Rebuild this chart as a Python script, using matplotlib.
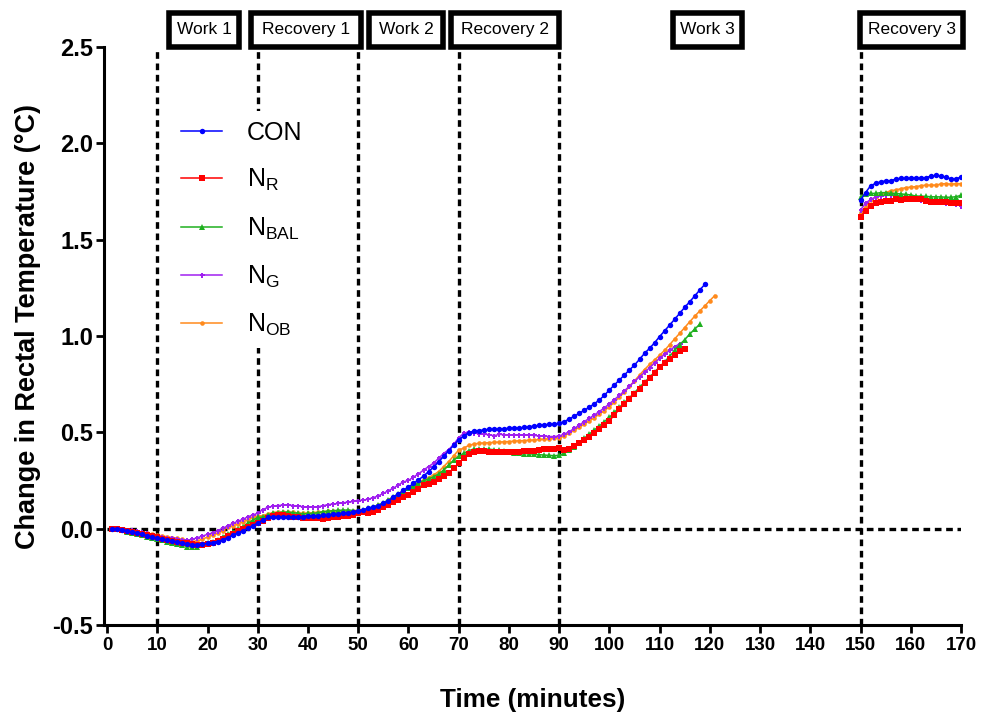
import matplotlib.pyplot as plt
from matplotlib.patches import Rectangle
import numpy as np

plt.rcParams['font.family'] = ['Liberation Sans', 'DejaVu Sans']

# change in rectal temperature (deg C), one reading per minute from minute 1
con = [0.000, 0.000, -0.005, -0.011, -0.017, -0.023, -0.030, -0.037, -0.044, -0.051,
       -0.056, -0.061, -0.065, -0.069, -0.074, -0.079, -0.083, -0.083, -0.080, -0.077,
       -0.072, -0.067, -0.058, -0.046, -0.035, -0.023, -0.011, 0.002, 0.016, 0.030,
       0.044, 0.058, 0.062, 0.062, 0.062, 0.061, 0.059, 0.059, 0.062, 0.066,
       0.066, 0.068, 0.069, 0.071, 0.074, 0.076, 0.080, 0.083, 0.087, 0.092,
       0.097, 0.106, 0.111, 0.118, 0.131, 0.145, 0.163, 0.180, 0.200, 0.215,
       0.235, 0.253, 0.273, 0.296, 0.320, 0.346, 0.375, 0.405, 0.432, 0.462,
       0.481, 0.498, 0.507, 0.509, 0.512, 0.515, 0.516, 0.517, 0.518, 0.521,
       0.523, 0.523, 0.525, 0.529, 0.532, 0.536, 0.539, 0.541, 0.543, 0.547,
       0.555, 0.569, 0.583, 0.599, 0.614, 0.630, 0.648, 0.668, 0.692, 0.720,
       0.746, 0.772, 0.798, 0.824, 0.849, 0.879, 0.910, 0.936, 0.965, 0.997,
       1.027, 1.057, 1.087, 1.118, 1.149, 1.178, 1.208, 1.239, 1.268]

n_r = [0.000, -0.003, -0.007, -0.012, -0.016, -0.021, -0.027, -0.033, -0.039, -0.045,
       -0.052, -0.059, -0.063, -0.067, -0.072, -0.076, -0.081, -0.085, -0.083, -0.078,
       -0.074, -0.064, -0.052, -0.040, -0.027, -0.014, -0.002, 0.008, 0.018, 0.030,
       0.040, 0.054, 0.064, 0.069, 0.069, 0.065, 0.062, 0.059, 0.057, 0.055,
       0.054, 0.053, 0.052, 0.054, 0.058, 0.061, 0.065, 0.067, 0.070, 0.080,
       0.085, 0.083, 0.087, 0.097, 0.111, 0.123, 0.138, 0.149, 0.164, 0.175,
       0.191, 0.208, 0.224, 0.232, 0.244, 0.256, 0.273, 0.290, 0.313, 0.340,
       0.365, 0.386, 0.398, 0.402, 0.403, 0.400, 0.398, 0.396, 0.396, 0.397,
       0.397, 0.399, 0.401, 0.403, 0.405, 0.408, 0.411, 0.414, 0.415, 0.417,
       0.408, 0.412, 0.428, 0.443, 0.460, 0.477, 0.495, 0.515, 0.536, 0.560,
       0.590, 0.620, 0.648, 0.674, 0.700, 0.725, 0.754, 0.781, 0.810, 0.838,
       0.860, 0.881, 0.903, 0.920, 0.935]

n_bal = [0.000, -0.002, -0.007, -0.016, -0.024, -0.029, -0.035, -0.042, -0.047, -0.054,
         -0.059, -0.067, -0.076, -0.081, -0.086, -0.093, -0.097, -0.094, -0.086, -0.077,
         -0.068, -0.059, -0.043, -0.029, -0.017, -0.004, 0.010, 0.027, 0.044, 0.058,
         0.060, 0.071, 0.080, 0.083, 0.085, 0.086, 0.083, 0.080, 0.076, 0.079,
         0.079, 0.083, 0.088, 0.091, 0.093, 0.095, 0.096, 0.097, 0.094, 0.094,
         0.097, 0.106, 0.114, 0.123, 0.135, 0.149, 0.166, 0.180, 0.192, 0.209,
         0.221, 0.235, 0.249, 0.258, 0.270, 0.284, 0.304, 0.330, 0.355, 0.375,
         0.391, 0.405, 0.413, 0.414, 0.413, 0.412, 0.410, 0.408, 0.403, 0.398,
         0.395, 0.391, 0.390, 0.389, 0.386, 0.384, 0.382, 0.380, 0.379, 0.380,
         0.391, 0.408, 0.425, 0.446, 0.469, 0.491, 0.512, 0.533, 0.555, 0.578,
         0.604, 0.630, 0.655, 0.680, 0.706, 0.734, 0.760, 0.786, 0.812, 0.840,
         0.866, 0.895, 0.925, 0.955, 0.981, 1.010, 1.036, 1.061]

n_g = [0.000, -0.001, -0.003, -0.005, -0.007, -0.012, -0.018, -0.024, -0.031, -0.038,
       -0.043, -0.047, -0.051, -0.055, -0.059, -0.060, -0.055, -0.047, -0.038, -0.030,
       -0.022, -0.011, 0.002, 0.014, 0.027, 0.038, 0.048, 0.061, 0.071, 0.080,
       0.099, 0.110, 0.117, 0.120, 0.122, 0.122, 0.120, 0.117, 0.114, 0.113,
       0.113, 0.114, 0.119, 0.125, 0.127, 0.131, 0.134, 0.138, 0.141, 0.145,
       0.148, 0.153, 0.161, 0.170, 0.183, 0.197, 0.210, 0.227, 0.243, 0.250,
       0.268, 0.284, 0.304, 0.322, 0.340, 0.365, 0.390, 0.410, 0.437, 0.472,
       0.495, 0.503, 0.498, 0.492, 0.490, 0.488, 0.482, 0.489, 0.488, 0.487,
       0.486, 0.486, 0.485, 0.485, 0.484, 0.481, 0.480, 0.478, 0.478, 0.481,
       0.491, 0.503, 0.520, 0.538, 0.555, 0.573, 0.590, 0.608, 0.627, 0.648,
       0.670, 0.692, 0.715, 0.740, 0.764, 0.788, 0.811, 0.835, 0.860, 0.884,
       0.905, 0.925, 0.944, 0.960]

n_ob = [0.000, -0.002, -0.005, -0.008, -0.010, -0.015, -0.020, -0.024, -0.029, -0.033,
        -0.038, -0.042, -0.046, -0.050, -0.056, -0.062, -0.067, -0.063, -0.055, -0.043,
        -0.033, -0.024, -0.010, 0.007, 0.014, 0.024, 0.035, 0.045, 0.058, 0.064,
        0.068, 0.076, 0.083, 0.087, 0.086, 0.084, 0.084, 0.081, 0.080, 0.080,
        0.083, 0.086, 0.088, 0.090, 0.092, 0.093, 0.092, 0.092, 0.091, 0.090,
        0.093, 0.100, 0.111, 0.121, 0.131, 0.149, 0.166, 0.180, 0.197, 0.209,
        0.226, 0.239, 0.253, 0.265, 0.279, 0.296, 0.322, 0.348, 0.378, 0.408,
        0.418, 0.432, 0.439, 0.443, 0.445, 0.446, 0.448, 0.449, 0.451, 0.452,
        0.454, 0.456, 0.457, 0.459, 0.460, 0.463, 0.464, 0.467, 0.469, 0.472,
        0.481, 0.495, 0.510, 0.526, 0.542, 0.559, 0.576, 0.594, 0.612, 0.632,
        0.657, 0.683, 0.709, 0.738, 0.767, 0.797, 0.826, 0.852, 0.876, 0.900,
        0.926, 0.955, 0.985, 1.014, 1.044, 1.074, 1.103, 1.130, 1.156, 1.184,
        1.210]

# recovery 3, minutes 150 to 170
rec_start = 150
con_rec = [1.705, 1.744, 1.780, 1.792, 1.800, 1.805, 1.805, 1.815, 1.818, 1.818, 1.818,
           1.822, 1.818, 1.822, 1.830, 1.833, 1.830, 1.823, 1.816, 1.813, 1.827]
n_r_rec = [1.619, 1.650, 1.675, 1.689, 1.697, 1.701, 1.702, 1.709, 1.706, 1.710, 1.712,
           1.710, 1.709, 1.700, 1.697, 1.697, 1.697, 1.695, 1.692, 1.689, 1.689]
n_bal_rec = [1.723, 1.737, 1.740, 1.740, 1.744, 1.744, 1.740, 1.740, 1.737, 1.735, 1.732,
             1.726, 1.726, 1.724, 1.723, 1.722, 1.722, 1.720, 1.720, 1.723, 1.730]
n_g_rec = [1.654, 1.689, 1.709, 1.720, 1.727, 1.730, 1.730, 1.728, 1.723, 1.720, 1.715,
           1.709, 1.706, 1.706, 1.702, 1.699, 1.695, 1.692, 1.689, 1.685, 1.676]
n_ob_rec = [1.640, 1.671, 1.705, 1.723, 1.737, 1.744, 1.754, 1.758, 1.764, 1.770, 1.773,
            1.775, 1.780, 1.783, 1.783, 1.783, 1.789, 1.791, 1.787, 1.791, 1.790]

phase_marks = [10, 30, 50, 70, 90, 150]
phase_names = ['Work 1', 'Recovery 1', 'Work 2', 'Recovery 2', 'Work 3', 'Recovery 3']

labels = ['CON', r'N$_\mathregular{R}$', r'N$_\mathregular{BAL}$',
          r'N$_\mathregular{G}$', r'N$_\mathregular{OB}$']


fig = plt.figure(figsize=(9.89, 7.15), dpi=100)
ax = fig.add_axes([0.1052, 0.1259, 0.8665, 0.8084])

# period boundaries and the zero line
for xm in phase_marks:
    ax.plot([xm, xm], [-0.5, 2.5], color='black', lw=2.4,
            ls=(0, (2.0, 1.4)), zorder=1)
ax.plot([0, 170], [0, 0], color='black', lw=2.4, ls=(0, (2.0, 1.4)), zorder=1)

series = [
    (con, con_rec, '#0000FF', 'o', 3.9),
    (n_r, n_r_rec, '#FF0000', 's', 3.7),
    (n_bal, n_bal_rec, '#1FB01F', '^', 3.9),
    (n_g, n_g_rec, '#A020F0', 'P', 3.6),
    (n_ob, n_ob_rec, '#FF8A1C', 'o', 3.3),
]
order = [4, 3, 2, 1, 0]
handles = [None] * 5
for i in order:
    vals, rec, col, mk, ms = series[i]
    t = np.arange(1, len(vals) + 1)
    t_rec = np.arange(rec_start, rec_start + len(rec))
    ln, = ax.plot(t, vals, color=col, marker=mk, ms=ms, lw=1.1, mew=0, zorder=3 + (4 - i))
    ax.plot(t_rec, rec, color=col, marker=mk, ms=ms, lw=1.1, mew=0, zorder=3 + (4 - i))
    handles[i] = ln

ax.set_xlim(-0.6, 170)
ax.set_ylim(-0.5, 2.5)
ax.set_xticks(np.arange(0, 171, 10))
ax.set_yticks(np.arange(-0.5, 2.51, 0.5))
ax.set_yticklabels(['%.1f' % v for v in np.arange(-0.5, 2.51, 0.5)])

for s in ['top', 'right']:
    ax.spines[s].set_visible(False)
for s in ['left', 'bottom']:
    ax.spines[s].set_linewidth(2.2)
ax.tick_params(axis='both', width=2.0, length=6, direction='out')
ax.tick_params(axis='y', labelsize=17, pad=2)
ax.tick_params(axis='x', labelsize=13.5, pad=3)
for lab in ax.get_xticklabels() + ax.get_yticklabels():
    lab.set_fontweight('bold')

ax.set_xlabel('Time (minutes)', fontsize=18.8, fontweight='bold', labelpad=24)
ax.set_ylabel('Change in Rectal Temperature (°C)', fontsize=19.5, fontweight='bold')
ax.yaxis.set_label_coords(-0.073, 0.516)

# period label boxes sitting on top of the plot
spans = [(12.4, 26.3), (28.6, 50.5), (52.2, 66.8), (68.4, 90.0),
         (112.6, 126.5), (149.9, 170.4)]
tr = ax.get_xaxis_transform()
for (x0, x1), name in zip(spans, phase_names):
    ax.add_patch(Rectangle((x0, 1.0), x1 - x0, 0.0595, transform=tr, fill=True,
                           fc='white', ec='black', lw=4, clip_on=False, zorder=6))
    ax.text((x0 + x1) / 2, 1.0298, name, transform=tr, ha='center', va='center',
            fontsize=12.5, zorder=7, clip_on=False)

leg = ax.legend(handles, labels, loc='upper left', bbox_to_anchor=(0.078, 0.889),
                borderaxespad=0, fontsize=18, frameon=True, fancybox=False,
                edgecolor='none', facecolor='white', framealpha=1,
                handlelength=1.65, handletextpad=1.0, labelspacing=0.88)
leg.set_zorder(5)

fig.savefig('out.png', dpi=100)
